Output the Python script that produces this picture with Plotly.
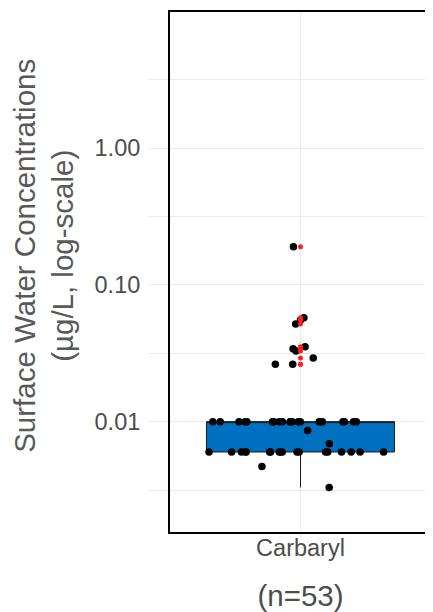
import plotly.graph_objects as go

category = "Carbaryl"
n_label = "(n=53)"
y_title = "Surface Water Concentrations<br>(µg/L, log-scale)"

# Carbaryl surface water concentrations (µg/L)
high_values = [0.19, 0.0575, 0.0554, 0.0518, 0.0353, 0.0341, 0.0329, 0.0292, 0.0263, 0.0263]
low_values = [0.0033, 0.0047, 0.0069, 0.0086]
count_at_0_01 = 21
count_at_0_006 = 18
values = high_values + low_values + [0.01] * count_at_0_01 + [0.006] * count_at_0_006

y_tickvals = [0.01, 0.1, 1]
y_ticktext = ["0.01", "0.10", "1.00"]
y_minor = [0.00316, 0.0316, 0.316, 3.16]

xs = [category] * len(values)
BOXW = 0.72

fig = go.Figure()
# box with whiskers (outlier markers hidden; drawn red on top later)
fig.add_trace(go.Box(
    x=xs, y=values, name=category, boxpoints="outliers", jitter=0, pointpos=0, width=BOXW,
    fillcolor="#0070C0", line=dict(color="#1a1a1a", width=1), whiskerwidth=0,
    marker=dict(color="rgba(0,0,0,0)", size=1), hoverinfo="skip",
))
# all observations, jittered
fig.add_trace(go.Box(
    x=xs, y=values, name=category, boxpoints="all", jitter=1, pointpos=0, width=BOXW,
    fillcolor="rgba(0,0,0,0)", line=dict(color="rgba(0,0,0,0)", width=0),
    marker=dict(color="black", size=7.5), hoverinfo="y",
))
# outliers in red at the centre
fig.add_trace(go.Box(
    x=xs, y=values, name=category, boxpoints="outliers", jitter=0, pointpos=0, width=BOXW,
    fillcolor="rgba(0,0,0,0)", line=dict(color="rgba(0,0,0,0)", width=0),
    marker=dict(color="#FF2020", size=5), hoverinfo="y",
))

grid = "#EBEBEB"
fig.update_layout(
    width=425, height=604,
    margin=dict(l=162, r=2, t=4, b=80),
    paper_bgcolor="white", plot_bgcolor="white",
    showlegend=False, boxmode="overlay",
    font=dict(family="Liberation Sans, Arial, sans-serif", color="#4D4D4D"),
    annotations=[dict(
        text=y_title, xref="paper", yref="paper", x=-0.483, y=0.531,
        xanchor="center", yanchor="middle", textangle=-90, showarrow=False,
        align="center", font=dict(size=29.5, color="#595959"),
    )],
)
fig.update_xaxes(
    type="category", range=[-0.5, 0.5], automargin=False,
    showgrid=True, gridcolor=grid, gridwidth=1,
    showline=True, linecolor="black", linewidth=2, mirror=True,
    ticks="outside", ticklen=4, tickcolor=grid,
    tickfont=dict(size=23.5, color="#4D4D4D"),
    ticklabelstandoff=-10,
    title=dict(text=n_label, font=dict(size=29.5, color="#4D4D4D"), standoff=25),
)
fig.update_yaxes(
    type="log", range=[-2.807, 0.995], automargin=False,
    tickvals=y_tickvals, ticktext=y_ticktext,
    showgrid=True, gridcolor=grid, gridwidth=1,
    minor=dict(tickvals=y_minor, showgrid=True, gridcolor=grid, ticks="outside", ticklen=20, tickcolor=grid),
    showline=True, linecolor="black", linewidth=2, mirror=True,
    ticks="outside", ticklen=20, tickcolor=grid,
    tickfont=dict(size=23.5, color="#4D4D4D"),
    ticklabelstandoff=3,
    zeroline=False,
)

fig.write_html("out.html")
